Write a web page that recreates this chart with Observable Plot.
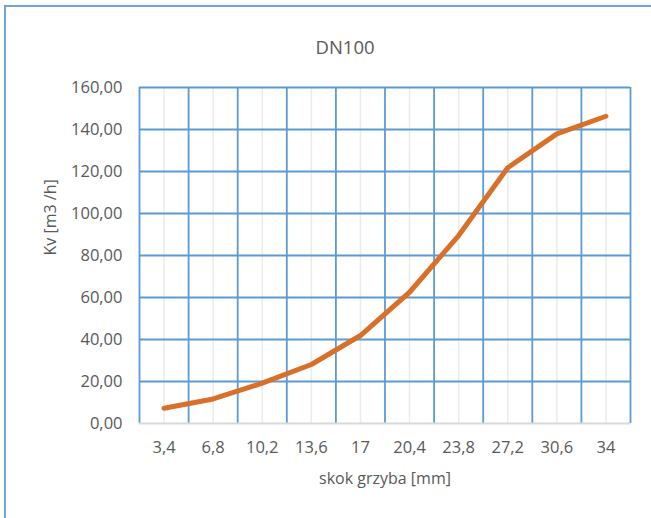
<!DOCTYPE html>
<html>
<head>
<meta charset="utf-8">
<script src="https://cdn.jsdelivr.net/npm/d3@7"></script>
<script src="https://cdn.jsdelivr.net/npm/@observablehq/plot@0.6"></script>
<style>
  html, body { margin: 0; padding: 0; background: #fff; }
  #wrap { position: relative; width: 651px; height: 518px; overflow: hidden; background: #fff; }
  #chart { position: absolute; left: 0; top: 0; }
  #frame { position: absolute; left: 4px; top: 5px; width: 720px; height: 620px; border: 2px solid #6ea6da; box-sizing: border-box; pointer-events: none; }
  #title { position: absolute; left: 0; top: 33px; width: 690px; text-align: center; font-family: "Open Sans", sans-serif; font-size: 18.5px; color: #595959; line-height: 28px; }
</style>
</head>
<body>
<div id="wrap">
  <div id="chart"></div>
  <div id="title">DN100</div>
  <div id="frame"></div>
</div>
<script>
const categories = ["3,4", "6,8", "10,2", "13,6", "17", "20,4", "23,8", "27,2", "30,6", "34"];
const kv = [7.3, 11.7, 19.2, 28.1, 41.9, 62.5, 89.5, 121.8, 137.9, 146.3];
const yTicks = [0, 20, 40, 60, 80, 100, 120, 140, 160];
const xLabel = "skok grzyba [mm]";
const yLabel = "Kv [m3 /h]";

const data = categories.map((c, i) => ({i, c, kv: kv[i]}));
const idx = categories.map((_, i) => i);
const bounds = d3.range(categories.length + 1).map(k => k - 0.5);
const fmt = d => d.toFixed(2).replace(".", ",");

const chart = Plot.plot({
  width: 651,
  height: 518,
  marginLeft: 139,
  marginRight: 21,
  marginTop: 87,
  marginBottom: 95,
  style: {fontFamily: "'Open Sans', sans-serif", fontSize: "16.5px", color: "#595959", background: "transparent", overflow: "visible"},
  x: {domain: [-0.5, categories.length - 0.5], ticks: idx, tickFormat: i => categories[i], tickSize: 0, tickPadding: 18, label: null},
  y: {domain: [0, 160], ticks: yTicks, tickFormat: fmt, tickSize: 0, tickPadding: 17, label: null},
  marks: [
    Plot.ruleX(idx, {stroke: "#ebebeb", strokeWidth: 1.5}),
    Plot.ruleX(bounds, {stroke: "#5b9bd5", strokeWidth: 1.8}),
    Plot.ruleY(yTicks.slice(1), {stroke: "#5b9bd5", strokeWidth: 1.8}),
    Plot.ruleY([0], {stroke: "#d9d9d9", strokeWidth: 1.8}),
    Plot.line(data, {x: "i", y: "kv", stroke: "#d8702a", strokeWidth: 5, strokeLinecap: "round", strokeLinejoin: "round"}),
    Plot.text([xLabel], {frameAnchor: "bottom", dy: 55, lineAnchor: "middle", fill: "#595959", fontSize: 16}),
    Plot.text([yLabel], {frameAnchor: "left", dx: -89, rotate: -90, lineAnchor: "middle", fill: "#595959", fontSize: 16})
  ]
});
document.getElementById("chart").appendChild(chart);
</script>
</body>
</html>
